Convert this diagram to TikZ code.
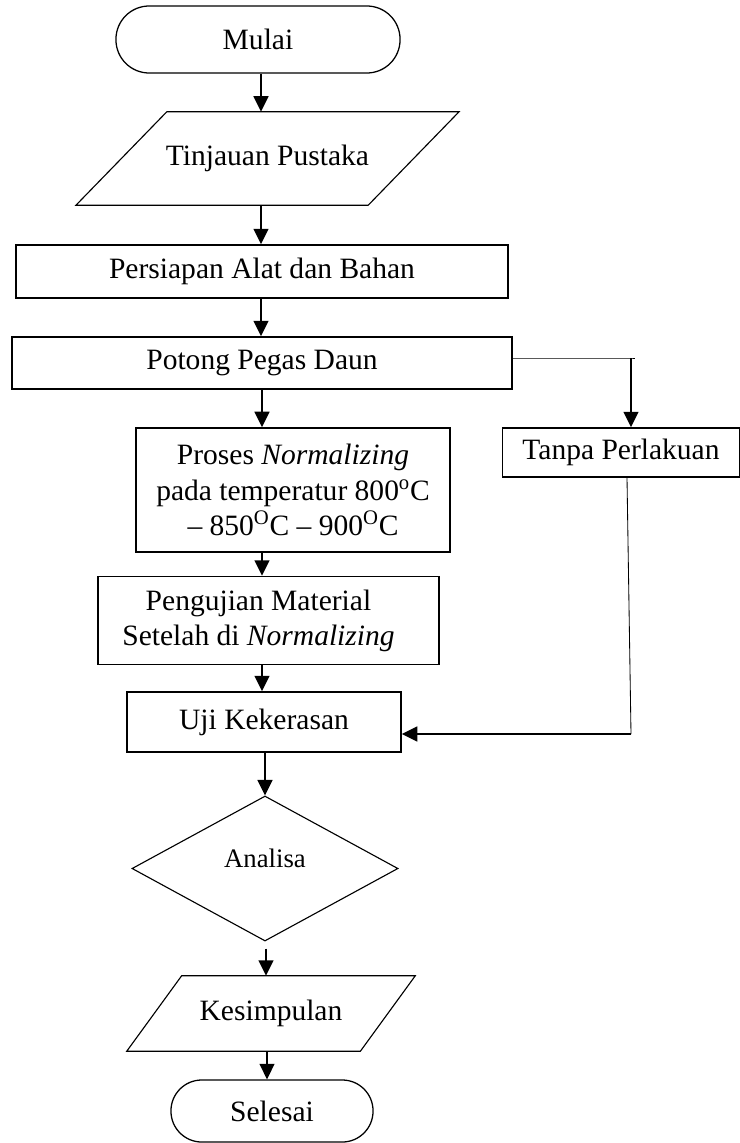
\documentclass[tikz,border=0pt]{standalone}
\usepackage{fontspec}
\setmainfont{Liberation Serif}
\usetikzlibrary{arrows.meta,shapes.geometric,calc}
\begin{document}
\begin{tikzpicture}[x=0.025cm,y=-0.025cm,
    box/.style={draw,line width=1.1pt,inner sep=0pt,align=center,font=\fontsize{21}{25}\selectfont},
    term/.style={box,line width=0.9pt},
    io/.style={inner sep=0pt,font=\fontsize{21}{25}\selectfont},
    arr/.style={line width=1.4pt,-{Triangle[length=11pt,width=10.5pt]}},
    wire/.style={line width=0.6pt}]
    \useasboundingbox (0,0) rectangle (740,1143);
    \node[term,rounded corners=0.83cm,minimum width=7.1cm,minimum height=1.675cm] (mulai) at (258,39.5) {Mulai};
    \node[io,minimum width=7.29cm,minimum height=2.325cm] (tinjauan) at (267.5,158.5) {Tinjauan Pustaka};
    \node[box,minimum width=12.3cm,minimum height=1.325cm] (persiapan) at (262,271.5) {Persiapan Alat dan Bahan};
    \node[box,minimum width=12.5cm,minimum height=1.3cm] (potong) at (262,363) {Potong Pegas Daun};
    \node[box,minimum width=7.85cm,minimum height=3.1cm] (proses) at (293,490) {Proses \textit{Normalizing}\\pada temperatur 800\textsuperscript{o}C\\– 850\textsuperscript{O}C – 900\textsuperscript{O}C};
    \node[box,minimum width=8.525cm,minimum height=2.2cm] (pengujian) at (268.5,620.5) {\hspace*{-0.5cm}Pengujian Material\\\hspace*{-0.5cm}Setelah di \textit{Normalizing}};
    \node[box,minimum width=6.85cm,minimum height=1.5cm] (uji) at (264,722) {Uji Kekerasan};
    \node[draw,diamond,line width=0.8pt,inner sep=0pt,minimum width=6.65cm,minimum height=3.625cm,font=\fontsize{19}{23}\selectfont] (analisa) at (265,868.5) {\raisebox{0.5cm}{Analisa}};
    \node[io,minimum width=5.825cm,minimum height=1.875cm] (kesimpulan) at (271,1013.5) {Kesimpulan};
    \node[term,rounded corners=0.77cm,minimum width=5.05cm,minimum height=1.55cm] (selesai) at (272,1111) {Selesai};
    \node[box,minimum width=5.925cm,minimum height=1.225cm] (tanpa) at (621,452.5) {Tanpa Perlakuan};
    \draw[line width=0.8pt] ($(tinjauan.north west)+(45.5,0)$) -- ($(tinjauan.north east)+(45.5,0)$) -- ($(tinjauan.south east)+(-45.5,0)$) -- ($(tinjauan.south west)+(-45.5,0)$) -- cycle;
    \draw[line width=0.8pt] ($(kesimpulan.north west)+(27.5,0)$) -- ($(kesimpulan.north east)+(27.5,0)$) -- ($(kesimpulan.south east)+(-27.5,0)$) -- ($(kesimpulan.south west)+(-27.5,0)$) -- cycle;
    \draw[arr] (mulai.south -| 261,0) -- (tinjauan.north -| 261,0);
    \draw[arr] (tinjauan.south -| 261,0) -- (persiapan.north -| 261,0);
    \draw[arr] (persiapan.south -| 261,0) -- (potong.north -| 261,0);
    \draw[arr] (potong.south -| 262,0) -- (proses.north -| 262,0);
    \draw[arr] (proses.south -| 262,0) -- (pengujian.north -| 262,0);
    \draw[arr] (pengujian.south -| 262,0) -- (uji.north -| 262,0);
    \draw[arr] (uji.south -| 265,0) -- (analisa.north);
    \draw[arr,shorten <=5pt] (analisa.south -| 266,0) -- (kesimpulan.north -| 266,0);
    \draw[arr] (kesimpulan.south -| 267,0) -- (selesai.north -| 267,0);
    \coordinate (split) at (631,358);
    \coordinate (join) at (631,734);
    \draw[wire] (potong.east |- split) -- (split) -- ++(4,0);
    \draw[arr] (split) -- (split |- tanpa.north);
    \draw[wire] ($(tanpa.south)+(6,0)$) -- (join);
    \draw[arr] (join) -- (join -| uji.east);
\end{tikzpicture}
\end{document}
